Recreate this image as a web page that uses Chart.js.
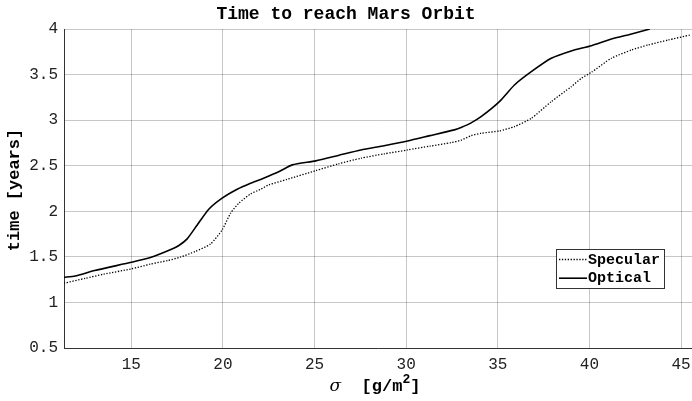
<!DOCTYPE html>
<html>
<head>
<meta charset="utf-8">
<script src="https://cdn.jsdelivr.net/npm/chart.js@4/dist/chart.umd.min.js"></script>
<style>
  html, body { margin: 0; padding: 0; background: #fff; }
  #wrap { width: 692px; height: 401px; }
</style>
</head>
<body>
<div id="wrap"><canvas id="chart" width="692" height="401"></canvas></div>
<script>
// sigma [g/m^2] and time [years]
const specularX = [11.33, 12.5, 13.5, 15, 16.04, 17.0, 17.68, 18.5, 19.32, 19.96, 20.42, 20.87, 21.51, 22.06, 22.51, 23.5, 25.07, 26.3, 27.53, 28.8, 30.08, 31.3, 32.45, 33.0, 33.55, 34.09, 35.09, 35.91, 36.83, 37.92, 39.01, 39.56, 40.11, 41.2, 42.3, 43.21, 44.3, 45.49];
const specularY = [1.211, 1.265, 1.31, 1.368, 1.42, 1.46, 1.497, 1.56, 1.64, 1.796, 1.979, 2.089, 2.19, 2.242, 2.29, 2.35, 2.446, 2.52, 2.582, 2.63, 2.673, 2.715, 2.753, 2.78, 2.83, 2.856, 2.882, 2.929, 3.02, 3.203, 3.367, 3.459, 3.525, 3.679, 3.77, 3.825, 3.879, 3.934];

const opticalX = [11.33, 11.94, 13.0, 15, 16.04, 17.13, 17.6, 18.05, 18.6, 19.23, 19.96, 20.78, 21.51, 22.06, 22.51, 23.1, 23.79, 25.07, 26.3, 27.53, 28.8, 30.08, 31.3, 32.63, 33.0, 33.5, 34.09, 35.09, 35.91, 36.83, 37.92, 39.01, 40.11, 41.2, 42.3, 43.3];
const opticalY = [1.277, 1.29, 1.35, 1.44, 1.492, 1.577, 1.625, 1.697, 1.85, 2.023, 2.144, 2.242, 2.308, 2.35, 2.388, 2.44, 2.509, 2.553, 2.613, 2.673, 2.72, 2.772, 2.83, 2.893, 2.92, 2.965, 3.038, 3.203, 3.386, 3.532, 3.679, 3.759, 3.817, 3.89, 3.945, 4.0];

const xTicks = [15, 20, 25, 30, 35, 40, 45];
const yTicks = [0.5, 1, 1.5, 2, 2.5, 3, 3.5, 4];

const mono = "'Liberation Mono', 'DejaVu Sans Mono', monospace";

function toPoints(xs, ys) {
  return xs.map((x, i) => ({ x: x, y: ys[i] }));
}

// legend box inside the plot, lower right
const boxLegend = {
  id: "boxLegend",
  afterDraw(chart) {
    const ctx = chart.ctx;
    const left = 556, top = 249, w = 108, h = 39;
    ctx.save();
    ctx.fillStyle = "#fff";
    ctx.fillRect(left, top, w, h);
    ctx.strokeStyle = "#333";
    ctx.lineWidth = 1;
    ctx.strokeRect(left + 0.5, top + 0.5, w, h);
    ctx.font = "bold 15px " + mono;
    ctx.textBaseline = "middle";
    ctx.fillStyle = "#000";
    chart.data.datasets.forEach((ds, i) => {
      const y = top + 10.5 + i * 18.7;
      ctx.strokeStyle = ds.borderColor;
      ctx.lineWidth = ds.borderWidth;
      ctx.setLineDash(ds.borderDash || []);
      ctx.beginPath();
      ctx.moveTo(left + 3, y);
      ctx.lineTo(left + 31, y);
      ctx.stroke();
      ctx.setLineDash([]);
      ctx.fillText(ds.label, left + 32, y + 0.5);
    });
    ctx.restore();
  }
};

// axis titles, drawn by hand for the mixed fonts
const axisTitles = {
  id: "axisTitles",
  afterDraw(chart) {
    const ctx = chart.ctx;
    const area = chart.chartArea;
    ctx.save();
    ctx.fillStyle = "#000";
    // y title
    ctx.font = "bold 17px " + mono;
    ctx.textAlign = "center";
    ctx.textBaseline = "middle";
    ctx.translate(15, 190);
    ctx.rotate(-Math.PI / 2);
    ctx.fillText("time [years]", 0, 0);
    ctx.setTransform(1, 0, 0, 1, 0, 0);

    // x title: sigma [g/m^2]
    const parts = [
      { t: "\u03c3", f: "italic 17px 'DejaVu Serif', serif", dy: 0 },
      { t: "  [g/m", f: "bold 17px " + mono, dy: 0 },
      { t: "2", f: "bold 13px " + mono, dy: -8 },
      { t: "]", f: "bold 17px " + mono, dy: 0 }
    ];
    let total = 0;
    parts.forEach(p => { ctx.font = p.f; p.w = ctx.measureText(p.t).width; total += p.w; });
    let x = (area.left + area.right) / 2 - total / 2 - 3;
    ctx.textAlign = "left";
    ctx.textBaseline = "alphabetic";
    parts.forEach(p => {
      ctx.font = p.f;
      ctx.fillText(p.t, x, 391 + p.dy);
      x += p.w;
    });
    ctx.restore();
  }
};

new Chart(document.getElementById("chart"), {
  type: "line",
  data: {
    datasets: [
      {
        label: "Specular",
        data: toPoints(specularX, specularY),
        borderColor: "#000",
        borderWidth: 1.3,
        borderDash: [1.3, 1.6],
        pointRadius: 0,
        fill: false,
        tension: 0.2
      },
      {
        label: "Optical",
        data: toPoints(opticalX, opticalY),
        borderColor: "#000",
        borderWidth: 1.6,
        pointRadius: 0,
        fill: false,
        tension: 0.2
      }
    ]
  },
  options: {
    responsive: false,
    animation: false,
    layout: { padding: 0 },
    plugins: {
      legend: { display: false },
      tooltip: { enabled: false },
      title: {
        display: true,
        text: "Time to reach Mars Orbit",
        color: "#000",
        font: { family: mono, size: 18, weight: "bold" },
        padding: { top: 4, bottom: 3.4 }
      }
    },
    scales: {
      x: {
        type: "linear",
        min: 11.33,
        max: 45.6,
        afterFit(scale) {
          scale.height = 53;
          scale.paddingLeft = 0;
          scale.paddingRight = 0;
        },
        afterBuildTicks(scale) {
          scale.ticks = xTicks.map(v => ({ value: v }));
        },
        ticks: {
          color: "#222",
          font: { family: mono, size: 16 },
          padding: 7,
          maxRotation: 0,
          callback: v => String(v)
        },
        grid: { color: "rgba(0,0,0,0.22)", drawTicks: false },
        border: { color: "#333", width: 1 }
      },
      y: {
        min: 0.5,
        max: 4,
        afterFit(scale) {
          scale.width = 64;
        },
        afterBuildTicks(scale) {
          scale.ticks = yTicks.map(v => ({ value: v }));
        },
        ticks: {
          color: "#222",
          font: { family: mono, size: 16 },
          padding: 6,
          callback: v => String(v)
        },
        grid: { color: "rgba(0,0,0,0.22)", drawTicks: false },
        border: { color: "#333", width: 1 }
      }
    }
  },
  plugins: [boxLegend, axisTitles]
});
</script>
</body>
</html>
